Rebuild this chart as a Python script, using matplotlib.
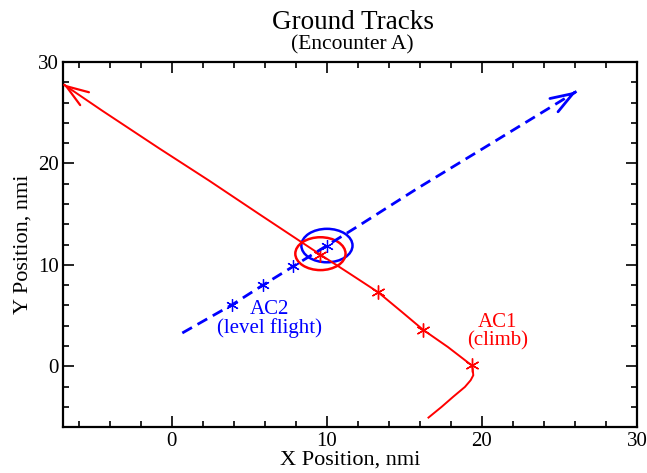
import matplotlib
matplotlib.use("Agg")
import matplotlib.pyplot as plt
from matplotlib.patches import Ellipse
from matplotlib.ticker import MultipleLocator

# ----- AC1 (climb) ground track, nmi -----
AC1_X = [16.55, 17.4, 18.15, 18.9, 19.27, 19.44, 19.4, 19.33, 17.8, 16.2,
         14.8, 13.3, 11.4, 9.58, 5.63, 2.4, -0.84, -4.5, -7.0]
AC1_Y = [-5.06, -4.0, -3.0, -2.04, -1.38, -0.89, -0.23, 0.1, 1.9, 3.6,
         5.4, 7.3, 9.2, 11.0, 15.0, 18.3, 21.5, 25.2, 27.8]
AC1_MARK_X = [19.33, 16.2, 13.3, 9.58]
AC1_MARK_Y = [0.1, 3.6, 7.3, 11.0]

# ----- AC2 (level flight) ground track, nmi -----
AC2_X = [0.67, 3.9, 5.85, 7.83, 10.0, 12.1, 15.8, 20.1, 26.1]
AC2_Y = [3.28, 6.08, 7.98, 9.85, 11.9, 13.9, 17.5, 21.5, 27.1]
AC2_MARK_X = [3.9, 5.85, 7.83, 10.0]
AC2_MARK_Y = [6.08, 7.98, 9.85, 11.9]

# protection circles at the last marker: (x, y, radius)
AC1_ZONE = (9.58, 11.1, 1.62)
AC2_ZONE = (10.0, 11.9, 1.65)

RED, BLUE = "#ff0000", "#0000ff"
plt.rcParams["font.family"] = ["Liberation Serif", "DejaVu Serif"]

fig = plt.figure(figsize=(6.47, 4.73), dpi=100)
ax = fig.add_axes([0.098, 0.097, 0.8865, 0.772])


def arrow_head(xs, ys, color, lw):
    # open head only: tiny segment along the last leg so the head stays solid
    x1, y1, x0, y0 = xs[-1], ys[-1], xs[-2], ys[-2]
    start = (x1 - 0.02 * (x1 - x0), y1 - 0.02 * (y1 - y0))
    ax.annotate("", xy=(x1, y1), xytext=start,
                arrowprops=dict(arrowstyle="->,head_length=0.8,head_width=0.28", color=color,
                                lw=lw, shrinkA=0, shrinkB=0, mutation_scale=20))


# AC1: solid red
ax.plot(AC1_X, AC1_Y, color=RED, lw=1.4)
arrow_head(AC1_X, AC1_Y, RED, 1.6)
ax.plot(AC1_MARK_X, AC1_MARK_Y, ls="none", marker=(6, 2, 0), ms=10, mew=1.0, color=RED)

# AC2: dashed blue
ax.plot(AC2_X, AC2_Y, color=BLUE, lw=2.0, ls=(0, (4, 2.3)))
arrow_head(AC2_X, AC2_Y, BLUE, 2.0)
ax.plot(AC2_MARK_X, AC2_MARK_Y, ls="none", marker=(6, 2, 0), ms=9, mew=0.9, color=BLUE)

for (cx, cy, r), c in [(AC2_ZONE, BLUE), (AC1_ZONE, RED)]:
    ax.add_patch(Ellipse((cx, cy), 2 * r, 2 * r, fill=False, ec=c, lw=1.8))

ax.text(6.3, 4.7, "AC2\n(level flight)", color=BLUE, fontsize=15, ha="center", va="center",
        linespacing=0.95)
ax.text(21.0, 3.4, "AC1\n(climb)", color=RED, fontsize=15, ha="center", va="center",
        linespacing=0.95)

ax.set_xlim(-7, 30); ax.set_ylim(-6, 30)
ax.xaxis.set_major_locator(MultipleLocator(10)); ax.xaxis.set_minor_locator(MultipleLocator(2))
ax.yaxis.set_major_locator(MultipleLocator(10)); ax.yaxis.set_minor_locator(MultipleLocator(2))
ax.tick_params(which="both", direction="in", top=True, right=True, labelsize=15, width=1.2)
ax.tick_params(which="major", length=8)
ax.tick_params(which="minor", length=4)
for s in ax.spines.values():
    s.set_linewidth(1.6)

ax.set_xlabel("X Position, nmi", fontsize=16, labelpad=0)
ax.set_ylabel("Y Position, nmi", fontsize=16, labelpad=4)
fig.text(0.545, 0.953, "Ground Tracks", ha="center", va="center", fontsize=19.5)
fig.text(0.545, 0.905, "(Encounter A)", ha="center", va="center", fontsize=15.5)

fig.savefig("out.png", dpi=100)
